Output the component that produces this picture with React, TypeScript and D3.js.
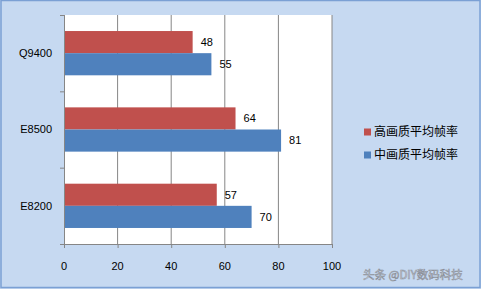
import React from "react";
import * as d3 from "d3";

const categories = ["Q9400", "E8500", "E8200"];
const seriesNames = ["高画质平均帧率", "中画质平均帧率"];
const highValues = [48, 64, 57];
const midValues = [55, 81, 70];
const xTicks = [0, 20, 40, 60, 80, 100];
const colors = ["#c0504d", "#4f81bd"];

const W = 481;
const H = 289;
const plot = { left: 64, right: 332, top: 15, bottom: 244 };

export default function App() {
  const x = d3.scaleLinear().domain([0, 100]).range([plot.left, plot.right]);
  const y = d3
    .scaleBand<string>()
    .domain(categories)
    .range([plot.top, plot.bottom])
    .paddingInner(0.42)
    .paddingOuter(0.21);
  const sub = d3
    .scaleBand<string>()
    .domain(["high", "mid"])
    .range([0, y.bandwidth()]);
  const series = [
    { key: "high", values: highValues, color: colors[0] },
    { key: "mid", values: midValues, color: colors[1] },
  ];
  const step = (plot.bottom - plot.top) / categories.length;
  const catTicks = d3.range(categories.length + 1).map((i) => plot.top + i * step);
  const font = "Arial, 'Liberation Sans', 'Noto Sans CJK SC', sans-serif";

  return (
    <svg
      width={W}
      height={H}
      style={{ position: "absolute", left: 0, top: 0 }}
      fontFamily={font}
    >
      <rect x={0} y={0} width={W} height={H} fill="#c6d9f1" />
      <rect x={1} y={0.5} width={W - 2} height={H - 2} fill="none" stroke="#7ba0d4" strokeWidth={1.5} />
      <rect
        x={plot.left}
        y={plot.top}
        width={plot.right - plot.left}
        height={plot.bottom - plot.top}
        fill="#ffffff"
      />
      {xTicks.slice(1).map((t) => (
        <line key={t} x1={x(t)} x2={x(t)} y1={plot.top} y2={plot.bottom} stroke="#868686" strokeWidth={1} />
      ))}
      {series.map((s) =>
        categories.map((c, i) => (
          <rect
            key={s.key + c}
            x={x(0)}
            y={(y(c) as number) + (sub(s.key) as number)}
            width={x(s.values[i]) - x(0)}
            height={sub.bandwidth()}
            fill={s.color}
          />
        ))
      )}
      {series.map((s) =>
        categories.map((c, i) => (
          <text
            key={"l" + s.key + c}
            x={x(s.values[i]) + 8}
            y={(y(c) as number) + (sub(s.key) as number) + sub.bandwidth() / 2}
            dy="0.35em"
            fontSize={11}
            fill="#000"
          >
            {s.values[i]}
          </text>
        ))
      )}
      {/* axes */}
      <line x1={plot.left + 0.5} x2={plot.left + 0.5} y1={plot.top} y2={plot.bottom} stroke="#868686" />
      <line x1={plot.left} x2={plot.right} y1={plot.bottom + 0.5} y2={plot.bottom + 0.5} stroke="#868686" />
      {catTicks.map((t, i) => (
        <line key={"ct" + i} x1={plot.left - 4} x2={plot.left} y1={t + 0.5} y2={t + 0.5} stroke="#868686" />
      ))}
      {xTicks.map((t) => (
        <line key={"xt" + t} x1={x(t) + 0.5} x2={x(t) + 0.5} y1={plot.bottom} y2={plot.bottom + 4} stroke="#868686" />
      ))}
      {categories.map((c) => (
        <text
          key={"c" + c}
          x={plot.left - 12}
          y={(y(c) as number) + y.bandwidth() / 2}
          dy="0.35em"
          textAnchor="end"
          fontSize={11}
          fill="#000"
        >
          {c}
        </text>
      ))}
      {xTicks.map((t) => (
        <text key={"xl" + t} x={x(t)} y={266} dy="0.35em" textAnchor="middle" fontSize={11} fill="#000">
          {t}
        </text>
      ))}
      {/* legend */}
      {seriesNames.map((n, i) => (
        <g key={n} transform={`translate(364, ${132 + i * 23})`}>
          <rect x={0} y={-3.5} width={7} height={7} fill={colors[i]} />
          <text x={10} y={0} dy="0.35em" fontSize={12} fill="#000" fontFamily="'Noto Sans CJK SC', sans-serif">
            {n}
          </text>
        </g>
      ))}
      {/* watermark */}
      <text
        x={363}
        y={275}
        dy="0.35em"
        fontSize={11.5}
        fill="#e8eef7"
        stroke="#8a8f99"
        strokeWidth={0.6}
        fontFamily="'Noto Sans CJK SC', sans-serif"
      >
        头条 @DIY数码科技
      </text>
    </svg>
  );
}
